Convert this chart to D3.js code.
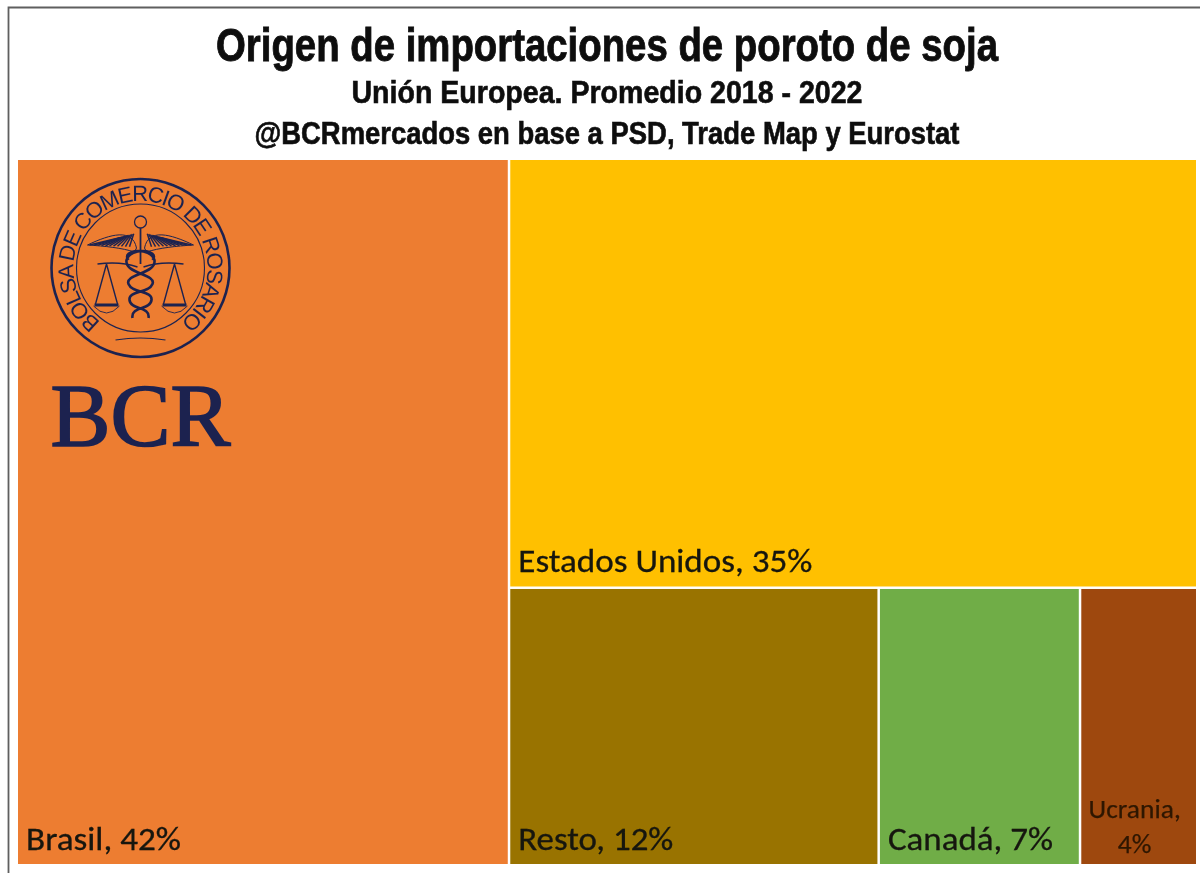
<!DOCTYPE html>
<html><head><meta charset="utf-8">
<style>html,body{margin:0;padding:0;background:#fff}svg{display:block}</style>
<script src="https://cdn.jsdelivr.net/npm/d3@7/dist/d3.min.js"></script>
</head><body><svg id="c" width="1200" height="873"></svg>
<script>
const titleLines = ["Origen de importaciones de poroto de soja","Unión Europea. Promedio 2018 - 2022","@BCRmercados en base a PSD, Trade Map y Eurostat"];
const categories = ["Brasil","Estados Unidos","Resto","Canadá","Ucrania"];
const shares = [41.7,35.4,12.3,6.7,3.9];
const colors = ["#ED7D31","#FFC000","#997300","#70AD47","#9E480E"];
const sealText = "BOLSA DE COMERCIO DE ROSARIO";

const svg = d3.select("#c");
const defs = svg.append("defs");
defs.append("filter").attr("id","soft").append("feGaussianBlur").attr("stdDeviation",0.6);

// frame
svg.append("path").attr("d","M8.5,873V7.5H1200").attr("fill","none").attr("stroke","#5f5f5f").attr("stroke-width",1.8);

// titles
const titleSpec = [
 {y:61,size:47,w:782,sw:0.9},{y:103,size:32,w:511,sw:0.6},{y:144,size:31,w:705,sw:0.6}];
svg.append("g").attr("filter","url(#soft)").selectAll("text").data(titleLines).join("text")
 .attr("x",607).attr("y",(d,i)=>titleSpec[i].y)
 .attr("text-anchor","middle")
 .attr("font-family","'Liberation Sans Narrow','Liberation Sans',sans-serif")
 .attr("font-weight",700).attr("font-size",(d,i)=>titleSpec[i].size)
 .attr("textLength",(d,i)=>titleSpec[i].w).attr("lengthAdjust","spacingAndGlyphs")
 .attr("fill","#0a0a0a").attr("stroke","#0a0a0a").attr("stroke-width",(d,i)=>titleSpec[i].sw).text(d=>d);

// treemap: nested slice-dice
const leaf = i => ({name:categories[i],value:shares[i],color:colors[i]});
const tree = {children:[leaf(0),{children:[leaf(1),{children:[leaf(2),leaf(3),leaf(4)]}]}]};
const root = d3.hierarchy(tree).sum(d=>d.value||0);
d3.treemap().tile(d3.treemapSliceDice).size([1178,704]).paddingInner(2.5).round(false)(root);
const g = svg.append("g").attr("transform","translate(18,160)");
const fmt = d3.format(".0f");
const cells = g.selectAll("g").data(root.leaves()).join("g");
cells.append("rect").attr("x",d=>d.x0).attr("y",d=>d.y0)
 .attr("width",d=>d.x1-d.x0).attr("height",d=>d.y1-d.y0).attr("fill",d=>d.data.color);

const labelFont = "Carlito,Lato,'Open Sans',sans-serif";
const big = cells.filter(d=>d.data.name!=="Ucrania").append("text")
 .attr("x",d=>d.x0+8).attr("y",d=>d.y1-14)
 .attr("font-family",labelFont).attr("font-size",32).attr("fill","#151510").attr("stroke","#151510").attr("stroke-width",0.3).attr("filter","url(#soft)")
 .text(d=>`${d.data.name}, ${fmt(d.data.value)}%`);
big.attr("textLength",d=>({"Brasil":155,"Estados Unidos":294,"Resto":155,"Canadá":165})[d.data.name]).attr("lengthAdjust","spacingAndGlyphs");
const uk = cells.filter(d=>d.data.name==="Ucrania").append("text")
 .attr("font-family",labelFont).attr("font-size",27.5).attr("fill","#2e1605").attr("stroke","#2e1605").attr("stroke-width",0.25).attr("filter","url(#soft)")
 .attr("text-anchor","middle");
uk.append("tspan").attr("x",d=>(d.x0+d.x1)/2-4).attr("y",d=>d.y1-46).text(d=>d.data.name+",");
uk.append("tspan").attr("x",d=>(d.x0+d.x1)/2-4).attr("y",d=>d.y1-11).text(d=>fmt(d.data.value)+"%");

// BCR seal
const navy="#1d2350";
const seal = svg.append("g").attr("transform","translate(140.5,268)").attr("fill","none").attr("stroke",navy).attr("filter","url(#soft)");
seal.append("circle").attr("r",89).attr("stroke-width",2.6);
seal.append("circle").attr("r",64).attr("stroke-width",1.1);
defs.append("path").attr("id","arc").attr("d","M-39.4,54.2 A67,67 0 1 1 39.4,54.2");
seal.append("text").attr("stroke","none").attr("fill",navy).attr("font-family","'Liberation Sans',sans-serif").attr("font-size",22)
 .append("textPath").attr("href","#arc").attr("startOffset","50%").attr("text-anchor","middle")
 .attr("textLength",335).attr("lengthAdjust","spacing").text(sealText);
seal.append("path").attr("stroke-width",1.2).attr("d","M-25,72 Q0,68 25,72");
// wings with hatched feathers
const wing = s=>`M${s*4},-20 C${s*8},-40 ${s*30},-34 ${s*53},-23 C${s*36},-22 ${s*18},-20 ${s*6},-16 Z`;
[-1,1].forEach(s=>{
 seal.append("path").attr("d",wing(s)).attr("stroke-width",1);
 d3.range(8,50,4).forEach(k=>{
  seal.append("path").attr("stroke-width",1.5).attr("d",`M${s*(k*0.35+4)},-${35-k*0.1} L${s*(k+3)},-${21+k*0.04}`);
 });
 // scales
 const px=s*34;
 seal.append("path").attr("stroke-width",1.4).attr("d",`M${s*3},-1 Q${s*20},-7 ${px+s*9},-4 M${px},-4 L${px-11},36 M${px},-4 L${px+11},36`);
 seal.append("path").attr("stroke-width",3).attr("d",`M${px-12},37 H${px+12}`);
 seal.append("path").attr("stroke-width",0.9).attr("d",`M${px-13},38 Q${px},52 ${px+13},38`);
});
seal.append("circle").attr("cy",-46).attr("r",6).attr("stroke-width",1.3);
seal.append("path").attr("stroke-width",1.8).attr("d","M0,-40V-4");
seal.append("path").attr("stroke-width",2.6).attr("d","M-12,-8 C-20,-18 10,-22 14,-8 C16,6 -16,6 -12,16 C-8,26 12,22 11,32 C10,42 -10,38 -8,50 M12,-8 C20,-18 -10,-22 -14,-8 C-16,6 16,6 12,16 C8,26 -12,22 -11,32 C-10,42 10,38 8,50");

svg.append("text").attr("x",140.5).attr("y",445).attr("text-anchor","middle")
 .attr("font-family","'Liberation Serif',serif").attr("font-size",89).attr("fill",navy).attr("stroke",navy).attr("stroke-width",1.7).attr("filter","url(#soft)")
 .attr("textLength",180).attr("lengthAdjust","spacingAndGlyphs").text("BCR");
</script></body></html>
